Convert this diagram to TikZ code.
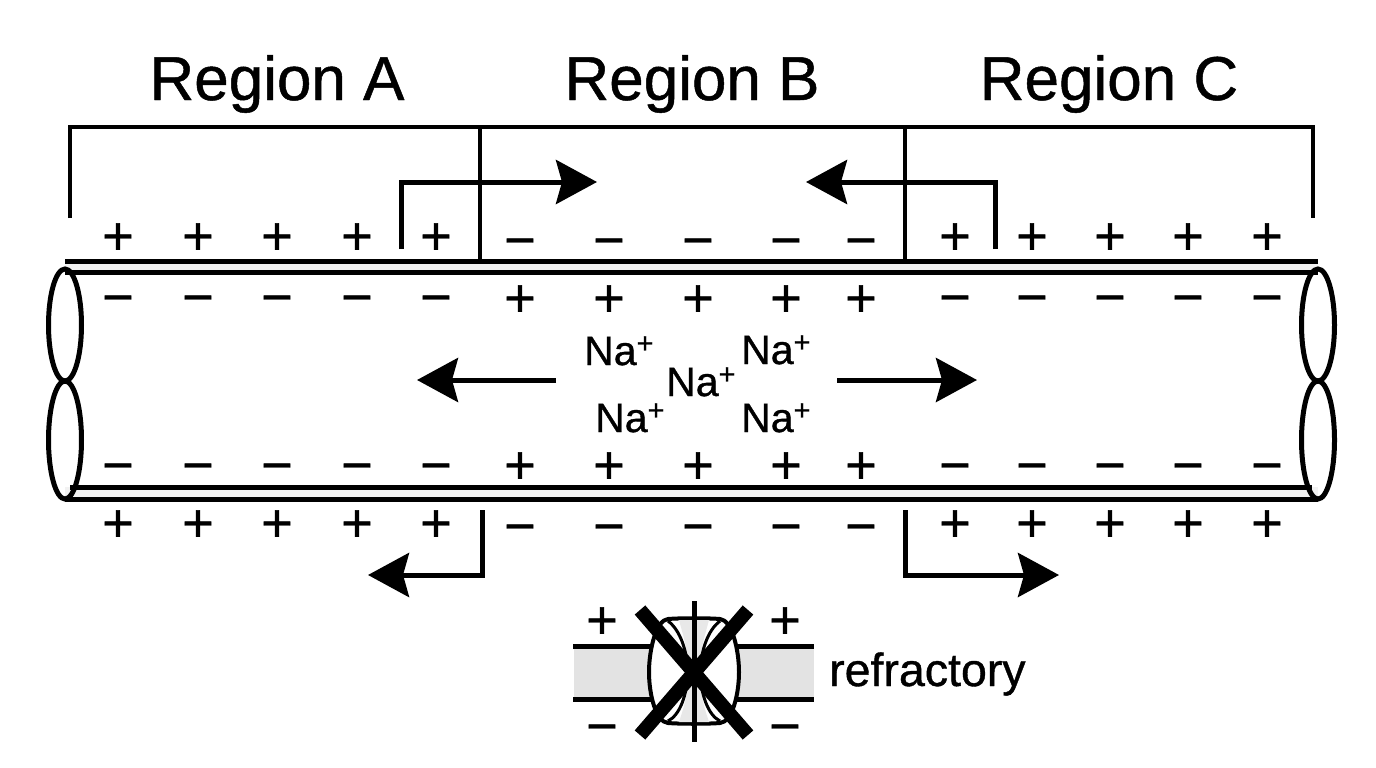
\documentclass[tikz,border=0pt]{standalone}
\usepackage{fontspec}
\setmainfont{Liberation Sans}[FakeBold=0.8]
\usetikzlibrary{arrows.meta}
\newcommand{\sodium}{Na\kern0pt\raisebox{12pt}{\fontsize{29}{29}\selectfont +}}
\tikzset{
  line/.style={draw=black,line width=5pt},
  thin line/.style={draw=black,line width=4.2pt},
  flow/.style={line,-{Stealth[length=41pt,width=44pt,inset=6pt]}},
  sign/.style={inner sep=0pt,anchor=base,yshift=-18.5pt,font=\fontsize{54}{54}\selectfont},
  region/.style={inner sep=0pt,anchor=base,font=\fontsize{62}{62}\selectfont},
  ion/.style={inner sep=0pt,anchor=base west,font=\fontsize{41}{41}\selectfont},
  cross/.style={draw=black,line width=14pt},
}
\begin{document}
\begin{tikzpicture}[x=1pt,y=-1pt]
\useasboundingbox (0,0) rectangle (1376,768);
\fill[white] (0,0) rectangle (1376,768);

% region titles
\node[region] (ra) at (277,100) {Region A};
\node[region] (rb) at (692,100) {Region B};
\node[region] (rc) at (1109,100) {Region C};

% axon wall
\fill[black!5] (65,261) rectangle (1318,272);
\fill[black!5] (65,487) rectangle (1318,499);
\coordinate (tl) at (65,261);  \coordinate (tr) at (1318,261);
\coordinate (il) at (65,272);  \coordinate (ir) at (1318,272);
\coordinate (jl) at (70,487);  \coordinate (jr) at (1312,487);
\coordinate (bl) at (65,499);  \coordinate (br) at (1318,499);
\draw[line] (tl) -- (tr);
\draw[line] (il) -- (ir);
\draw[line] (jl) -- (jr);
\draw[line] (bl) -- (br);

% pinched ends of the axon
\foreach \x in {65,1318}{
  \draw[line] (\x,325) ellipse [x radius=16.5,y radius=56];
  \draw[line] (\x,440) ellipse [x radius=16.5,y radius=59];
}

% region brackets
\draw[thin line] (70,218) -- (70,127) -- (1313,127) -- (1313,218);
\draw[thin line] (480,127) -- (480,261);
\draw[thin line] (905,127) -- (905,261);

% local current arrows
\draw[flow] (401,249) -- (401,182) -- (597,182);
\draw[flow] (995,249) -- (995,182) -- (806,182);
\draw[flow] (556,380) -- (417,380);
\draw[flow] (837,380) -- (977,380);
\draw[flow] (482,510) -- (482,575) -- (368,575);
\draw[flow] (905,510) -- (905,575) -- (1059,575);

% charges: outside and inside of the membrane, top and bottom
\foreach \x [count=\i] in {118,198,277,357,436}{
  \node[sign] (ap\i) at (\x,236) {+};
  \node[sign] (am\i) at (\x,297) {−};
  \node[sign] (bm\i) at (\x,465) {−};
  \node[sign] (bp\i) at (\x,523) {+};
}
\foreach \x [count=\i] in {520,609,698,786,861}{
  \node[sign] (cm\i) at (\x,240) {−};
  \node[sign] (cp\i) at (\x,298) {+};
  \node[sign] (dp\i) at (\x,465) {+};
  \node[sign] (dm\i) at (\x,526) {−};
}
\foreach \x [count=\i] in {955,1032,1110,1188,1267}{
  \node[sign] (ep\i) at (\x,236) {+};
  \node[sign] (em\i) at (\x,297) {−};
  \node[sign] (fm\i) at (\x,465) {−};
  \node[sign] (fp\i) at (\x,523) {+};
}

% sodium ions
\node[ion] (na1) at (584,365) {\sodium};
\node[ion] (na2) at (666,396) {\sodium};
\node[ion] (na3) at (741,364) {\sodium};
\node[ion] (na4) at (595,432) {\sodium};
\node[ion] (na5) at (741,432) {\sodium};

% inactivated channel in the membrane
\fill[black!11] (574,646) rectangle (652,699);
\fill[black!11] (736,646) rectangle (814,699);
\draw[line] (573,646) -- (652,646);
\draw[line] (573,699) -- (652,699);
\draw[line] (736,646) -- (814,646);
\draw[line] (736,699) -- (814,699);
\path[fill=white,draw=black,line width=4pt]
  (668,619) .. controls (656,620) and (649,650) .. (649,672)
  .. controls (649,695) and (656,722) .. (668,723)
  .. controls (680,724) and (708,724) .. (720,723)
  .. controls (732,722) and (739,695) .. (739,672)
  .. controls (739,650) and (732,620) .. (720,619)
  .. controls (708,618) and (680,618) .. (668,619) -- cycle;
\path[fill=black!9]
  (679,620) .. controls (683,635) and (688,650) .. (689,672)
  .. controls (688,695) and (683,710) .. (679,722)
  -- (709,722) .. controls (705,710) and (700,695) .. (699,672)
  .. controls (700,650) and (705,635) .. (709,620) -- cycle;
\draw[black,line width=3pt]
  (668,621) .. controls (680,630) and (687,650) .. (688,672)
  .. controls (687,695) and (680,715) .. (668,721);
\draw[black,line width=3pt]
  (720,621) .. controls (708,630) and (701,650) .. (700,672)
  .. controls (701,695) and (708,715) .. (720,721);
\draw[line] (694,601) -- (694,742);
\draw[cross] (640,610) -- (748,735);
\draw[cross] (748,610) -- (640,735);
\node[sign] (gp1) at (602,620) {+};
\node[sign] (gp2) at (785,620) {+};
\node[sign] (gm1) at (602,726) {−};
\node[sign] (gm2) at (785,726) {−};
\node[inner sep=0pt,anchor=base west,font=\fontsize{46.5}{46.5}\selectfont] (rf) at (829,686) {refractory};
\end{tikzpicture}
\end{document}
